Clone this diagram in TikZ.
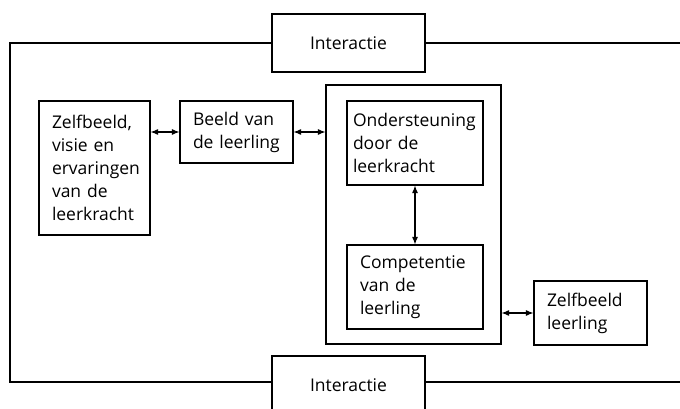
\documentclass[tikz,border=0pt]{standalone}
\usepackage{fontspec}
\setmainfont{Open Sans}
\usetikzlibrary{arrows.meta}
\begin{document}
\begin{tikzpicture}[x=1pt,y=-1pt,>={Latex[length=7.5pt,width=6pt]},
	vak/.style={draw,line width=1.1pt,align=left,inner xsep=13pt,inner ysep=0pt,
		font=\fontsize{17.5}{23}\selectfont},
	lijn/.style={line width=1.1pt}]
	\useasboundingbox (0,0) rectangle (680,409);
	\clip (0,0) rectangle (680,409);
	% interactie boven en onder
	\node[vak,align=center,minimum width=153,minimum height=58] (interboven) at (348.5,43) {Interactie};
	\node[vak,align=center,minimum width=153,minimum height=58] (interonder) at (348.5,385) {Interactie};
	% linker kolom
	\node[vak,text width=85,minimum height=134] (zelfkracht) at (94.5,168) {Zelfbeeld,\\visie en\\ervaringen\\van de\\leerkracht};
	\node[vak,text width=87,minimum height=62] (beeld) at (236.5,132) {Beeld van\\de leerling};
	% kader met ondersteuning en competentie
	\node[draw,lijn,minimum width=175,minimum height=259] (kader) at (413.5,214.5) {};
	\node[vak,inner xsep=6pt,text width=124,minimum height=84] (onder) at (415,143) {Ondersteuning\\door de\\leerkracht};
	\node[vak,text width=110,minimum height=84] (comp) at (415,287) {Competentie\\van de\\leerling};
	\node[vak,text width=87,minimum height=64] (zelfleer) at (590.5,313) {Zelfbeeld\\leerling};
	% pijlen
	\draw[lijn,<->] (zelfkracht.east |- beeld.west) -- (beeld.west);
	\draw[lijn,<->] (beeld.east) -- (beeld.east -| kader.west);
	\draw[lijn,<->] (onder.south) -- (comp.north);
	\draw[lijn,<->] (zelfleer.west -| kader.east) -- (zelfleer.west);
	% omlijning
	\coordinate (hoeklb) at (10,43);
	\coordinate (hoekro) at (680,382);
	\draw[lijn] (interboven.west) -- (hoeklb) |- (interonder.west |- hoekro);
	\draw[lijn] (interboven.east) -- (interboven.east -| hoekro);
	\draw[lijn] (interonder.east |- hoekro) -- (hoekro);
\end{tikzpicture}
\end{document}
